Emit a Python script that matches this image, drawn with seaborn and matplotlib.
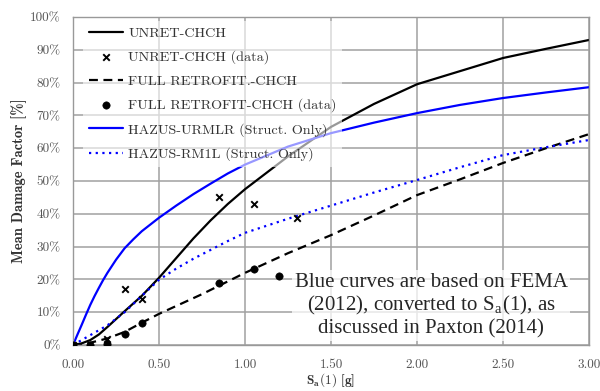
import numpy as np
import pandas as pd
import matplotlib
matplotlib.use("Agg")
import matplotlib.pyplot as plt
import seaborn as sns
from matplotlib.ticker import FuncFormatter, FormatStrFormatter, MultipleLocator

# --- Data ---
unret_x = [0, 0.05, 0.1, 0.15, 0.2, 0.3, 0.4, 0.5, 0.6, 0.7, 0.8, 0.9, 1.0, 1.25, 1.5, 1.75, 2.0, 2.25, 2.5, 2.75, 3.0]
unret_y = [0, 0.5, 1.5, 3.2, 5.5, 10.3, 15, 20.5, 26.5, 32.5, 38, 43, 47.5, 57.5, 66.5, 73.5, 79.5, 83.5, 87.5, 90.3, 93]

unret_data_x = [0.0, 0.2, 0.3, 0.4, 0.85, 1.05, 1.3]
unret_data_y = [0.0, 1.7, 17.1, 14.1, 45.1, 42.9, 38.6]

retro_x = [0, 0.1, 0.2, 0.3, 0.4, 0.5, 0.75, 1.0, 1.25, 1.5, 1.75, 2.0, 2.25, 2.5, 2.75, 3.0]
retro_y = [0, 0.7, 2, 4, 6.8, 9.5, 15.5, 22, 28, 33.5, 39.5, 45.7, 50.5, 55.5, 60, 64.3]

retro_data_x = [0.0, 0.1, 0.2, 0.3, 0.4, 0.85, 1.05, 1.2]
retro_data_y = [0.0, 0.0, 0.2, 3.3, 6.6, 18.9, 23.2, 20.9]

urmlr_x = [0, 0.025, 0.05, 0.075, 0.1, 0.125, 0.15, 0.175, 0.2, 0.25, 0.3, 0.35, 0.4, 0.5, 0.6, 0.7,
           0.8, 0.9, 1.0, 1.25, 1.5, 1.75, 2.0, 2.25, 2.5, 2.75, 3.0]
urmlr_y = [0, 3.1, 6.1, 9.2, 12.2, 14.9, 17.4, 19.8, 22.0, 26.0, 29.5, 32.2, 34.7, 38.8, 42.5, 46,
           49.2, 52.3, 55, 60.5, 64.6, 67.8, 70.7, 73.2, 75.3, 77, 78.6]

rm1l_x = [0, 0.1, 0.2, 0.3, 0.4, 0.5, 0.6, 0.7, 0.8, 0.9, 1.0, 1.25, 1.5, 1.75, 2.0, 2.25, 2.5, 2.75, 3.0]
rm1l_y = [0, 3, 6, 10, 15, 19.9, 23.3, 26.3, 29, 31.7, 34.2, 38.5, 42.5, 46.5, 50.3, 54.2, 57.9, 60.3, 62.5]

x_ticks = [0, 0.5, 1.0, 1.5, 2.0, 2.5, 3.0]

note = "Blue curves are based on FEMA\n(2012), converted to S$_\\mathregular{a}$(1), as\ndiscussed in Paxton (2014)"

# --- Style ---
sns.set_style("whitegrid")
plt.rcParams["font.family"] = ["cmr10", "DejaVu Serif"]
plt.rcParams["mathtext.fontset"] = "cm"
plt.rcParams["axes.formatter.use_mathtext"] = True

fig = plt.figure(figsize=(6.0, 3.91), dpi=100)
ax = fig.add_axes([0.1217, 0.1176, 0.86, 0.8389])

sns.lineplot(x=unret_x, y=unret_y, ax=ax, color="black", lw=1.6, label="UNRET-CHCH")
sns.scatterplot(x=unret_data_x, y=unret_data_y, ax=ax, marker="x", color="black", s=22,
                linewidth=1.4, label="UNRET-CHCH (data)", zorder=5)
sns.lineplot(x=retro_x, y=retro_y, ax=ax, color="black", lw=1.6, linestyle=(0, (4, 2.5)),
             label="FULL RETROFIT.-CHCH")
sns.scatterplot(x=retro_data_x, y=retro_data_y, ax=ax, marker="o", color="black", s=28,
                edgecolor="black", label="FULL RETROFIT-CHCH (data)", zorder=5)
sns.lineplot(x=urmlr_x, y=urmlr_y, ax=ax, color="#0000ff", lw=1.6, label="HAZUS-URMLR (Struct. Only)")
sns.lineplot(x=rm1l_x, y=rm1l_y, ax=ax, color="#0000ff", lw=1.6, linestyle=(0, (1, 2)),
             label="HAZUS-RM1L (Struct. Only)")

ax.set_xlim(0, 3.0)
ax.set_ylim(0, 100)
ax.set_xticks(x_ticks)
ax.yaxis.set_major_locator(MultipleLocator(10))
ax.xaxis.set_major_formatter(FormatStrFormatter("%.2f"))
ax.yaxis.set_major_formatter(FuncFormatter(lambda v, p: f"{v:.0f}%"))
ax.tick_params(axis="both", labelsize=9.5, colors="#555555", length=0)
ax.tick_params(axis="x", pad=10)
ax.tick_params(axis="y", pad=9)
ax.grid(True, color="#a0a0a0", lw=1.1)
for sp in ax.spines.values():
    sp.set_color("#999999")
    sp.set_linewidth(1.0)

ax.set_xlabel(r"$\mathbf{S_a(1)}$ [g]", fontfamily="cmb10", fontsize=9.5, color="#333333", labelpad=0)
ax.set_ylabel("Mean Damage Factor [%]", fontfamily="cmb10", fontsize=10.5, color="#333333", labelpad=2)

leg = ax.legend(loc="upper left", bbox_to_anchor=(0.012, 1.0), frameon=True, fontsize=10.2,
                handlelength=2.4, labelspacing=0.75, borderaxespad=0.3, handletextpad=0.35)
leg.get_frame().set_facecolor("white")
leg.get_frame().set_alpha(0.6)
leg.get_frame().set_edgecolor("none")
for t in leg.get_texts():
    t.set_color("#333333")

ax.text(0.694, 0.12, note, transform=ax.transAxes, ha="center", va="center",
        fontfamily="Liberation Serif", fontsize=15, linespacing=1.15,
        bbox=dict(facecolor="white", edgecolor="none", alpha=0.75, pad=2))

fig.savefig("out.png", dpi=100)
